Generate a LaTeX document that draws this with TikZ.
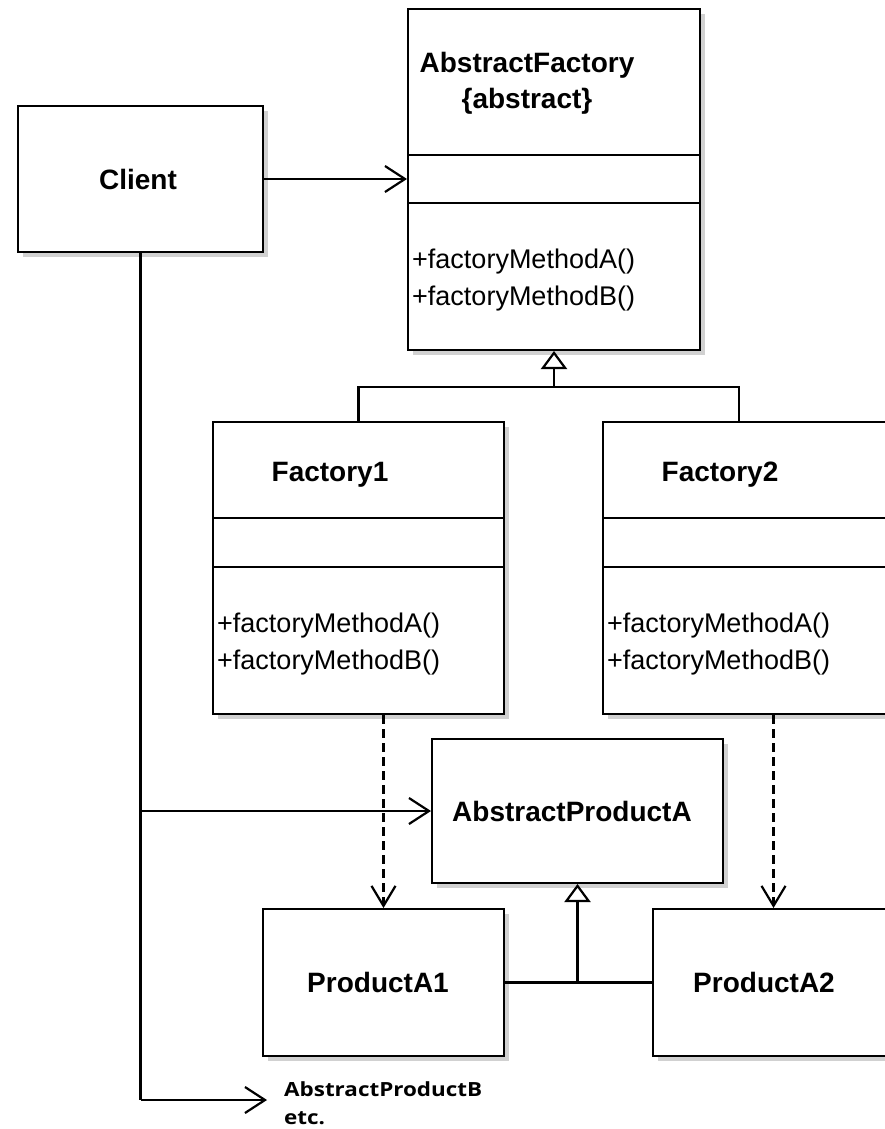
\documentclass[tikz,border=0pt]{standalone}
\usepackage{fontspec}
\setmainfont{Liberation Sans}
\newfontfamily\notefont[FakeStretch=1.15]{Open Sans}
\usetikzlibrary{arrows.meta,shadows,calc}
\begin{document}
\begin{tikzpicture}[x=1pt,y=-1pt,
  box/.style={draw=black, line width=2pt, fill=white, rectangle, inner sep=0pt, anchor=north west,
    drop shadow={shadow xshift=5pt, shadow yshift=-5pt, fill=black!18, opacity=1}},
  ttl/.style={font=\bfseries\fontsize{28}{33}\selectfont, inner sep=0pt, anchor=base},
  mth/.style={font=\fontsize{27}{32}\selectfont, inner sep=0pt, anchor=base west},
  note/.style={font=\notefont\bfseries\fontsize{19.5}{23}\selectfont, inner sep=0pt, anchor=base west},
  ln/.style={draw=black, line width=2.2pt},
  assoc/.style={ln, -{Straight Barb[length=20pt,width=26pt]}},
  dep/.style={ln, dash pattern=on 9pt off 5pt, -{Straight Barb[length=20pt,width=24pt]}},
  inherit/.style={ln, -{Triangle[open, length=18pt, width=26pt, fill=white]}}]

\fill[white] (0,0) rectangle (885,1129);
\useasboundingbox (0,0) rectangle (885,1129);

% boxes
\node[box, minimum width=245pt, minimum height=146pt] (client) at (17,105) {};
\node[box, minimum width=292pt, minimum height=341pt] (af) at (407,8) {};
\node[box, minimum width=291pt, minimum height=292pt] (f1) at (212,421) {};
\node[box, minimum width=291pt, minimum height=292pt] (f2) at (602,421) {};
\node[box, minimum width=291pt, minimum height=144pt] (apa) at (431,738) {};
\node[box, minimum width=241pt, minimum height=147pt] (pa1) at (262,908) {};
\node[box, minimum width=241pt, minimum height=147pt] (pa2) at (652,908) {};

% compartments
\draw[ln] (af.west |- 0,155) -- (af.east |- 0,155);
\draw[ln] (af.west |- 0,203) -- (af.east |- 0,203);
\draw[ln] (f1.west |- 0,518) -- (f1.east |- 0,518);
\draw[ln] (f1.west |- 0,567) -- (f1.east |- 0,567);
\draw[ln] (f2.west |- 0,518) -- (f2.east |- 0,518);
\draw[ln] (f2.west |- 0,567) -- (f2.east |- 0,567);

% texts
\node[ttl] (tclient) at (138,189) {Client};
\node[ttl] (taf) at (527,73) {AbstractFactory};
\node[ttl] (tafa) at (527,109) {\{abstract\}};
\node[mth] (afm1) at (412,268) {+factoryMethodA()};
\node[mth] (afm2) at (412,305) {+factoryMethodB()};
\node[ttl] (tf1) at (330,481) {Factory1};
\node[mth] (f1m1) at (217,632) {+factoryMethodA()};
\node[mth] (f1m2) at (217,669) {+factoryMethodB()};
\node[ttl] (tf2) at (720,481) {Factory2};
\node[mth] (f2m1) at (607,632) {+factoryMethodA()};
\node[mth] (f2m2) at (607,669) {+factoryMethodB()};
\node[ttl] (tapa) at (572,821) {AbstractProductA};
\node[ttl] (tpa1) at (378,992) {ProductA1};
\node[ttl] (tpa2) at (764,992) {ProductA2};
\node[note] (noteb) at (284,1096) {AbstractProductB};
\node[note] (notee) at (284,1124) {etc.};

% connectors
\draw[assoc] (client.east |- 0,179) -- (af.west |- 0,179);

\coordinate (afj) at (af.south |- 0,387);
\coordinate (f2j) at ($(f2.north west)+(137,0)$);
\draw[ln] (f1.north) |- (afj) -| (f2j);
\draw[inherit] (afj) -- (af.south);

\draw[dep] (pa1.north |- f1.south) -- (pa1.north);
\draw[dep] (pa2.north |- f2.south) -- (pa2.north);

\coordinate (paj) at (apa.south |- pa1.east);
\draw[ln] (pa1.east) -- (pa2.west);
\draw[inherit] (paj) -- (apa.south);

\coordinate (cb) at (client.south |- 0,1100);
\coordinate (nend) at (267,1100);
\draw[ln] (client.south) -- (cb);
\draw[assoc] (cb) -- (nend);
\draw[assoc] (client.south |- apa.west) -- (apa.west);
\end{tikzpicture}
\end{document}
